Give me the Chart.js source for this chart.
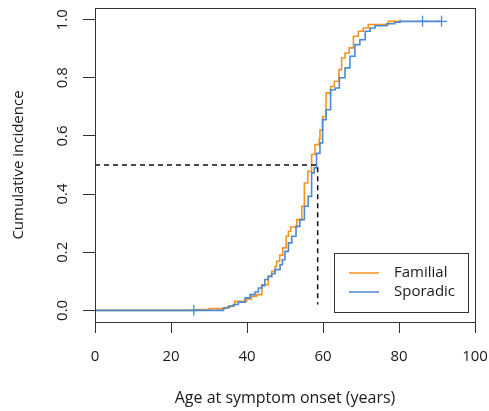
<!DOCTYPE html>
<html>
<head>
<meta charset="utf-8">
<style>
  html, body { margin: 0; padding: 0; background: #ffffff; }
  canvas { display: block; }
</style>
<script src="https://cdn.jsdelivr.net/npm/chart.js@4.4.1/dist/chart.umd.min.js"></script>
</head>
<body>
<canvas id="chart" width="489" height="411"></canvas>
<script>
// Cumulative incidence of symptom onset (step curves, event time -> level after the step)
const familialAge = [0, 26.8, 30.1, 34.2, 35.5, 36.8, 39.9, 41.2, 42.5, 43.9, 45.6, 46.5, 47.4, 47.8, 48.6, 49.4, 50.3, 50.9, 51.5, 53.1, 54.4, 55.1, 56.0, 57.0, 57.9, 59.0, 59.2, 59.9, 60.8, 62.0, 63.0, 64.2, 64.9, 65.8, 66.9, 68.0, 69.3, 70.6, 71.9, 77.2, 80.3];
const familialCum = [0, 0.003, 0.006, 0.010, 0.016, 0.031, 0.039, 0.048, 0.054, 0.088, 0.117, 0.134, 0.151, 0.169, 0.190, 0.215, 0.255, 0.272, 0.287, 0.312, 0.358, 0.438, 0.478, 0.536, 0.570, 0.590, 0.620, 0.667, 0.748, 0.770, 0.788, 0.828, 0.868, 0.885, 0.903, 0.943, 0.960, 0.971, 0.983, 0.994, 1.0];

const sporadicAge = [0, 33.8, 35.1, 36.4, 37.7, 39.5, 40.8, 42.1, 43.0, 43.9, 44.7, 45.6, 46.5, 47.4, 48.7, 49.3, 50.0, 50.9, 51.8, 52.9, 53.9, 55.1, 56.1, 57.0, 57.7, 58.3, 59.2, 59.9, 60.8, 62.0, 63.2, 64.3, 65.8, 67.1, 68.4, 69.7, 71.1, 72.4, 73.7, 76.8, 78.9, 80.3, 91.2];
const sporadicCum = [0, 0.008, 0.014, 0.020, 0.028, 0.043, 0.054, 0.063, 0.077, 0.085, 0.106, 0.117, 0.126, 0.140, 0.157, 0.174, 0.203, 0.232, 0.255, 0.289, 0.312, 0.358, 0.392, 0.473, 0.490, 0.540, 0.576, 0.656, 0.690, 0.759, 0.765, 0.800, 0.834, 0.874, 0.914, 0.931, 0.960, 0.971, 0.979, 0.986, 0.991, 0.994, 0.994];

// Censored observations (drawn as "+")
const sporadicCensorAge = [26.0, 86.2, 91.2];
const sporadicCensorCum = [0, 0.994, 0.994];

// Median onset guide
const medianAge = 58.6;
const medianLevel = 0.5;
const medianFloor = 0.02;

const xTickValues = [0, 20, 40, 60, 80, 100];
const yTickValues = [0, 0.2, 0.4, 0.6, 0.8, 1.0];
const seriesLabels = ['Familial', 'Sporadic'];
const seriesColors = ['#F7931E', '#4A8AD2'];

const FONT = "'Open Sans', 'Noto Sans', sans-serif";
const INK = '#1a1a1a';
const AXIS = '#333333';

const toPoints = (xs, ys) => xs.map((x, i) => ({ x: x, y: ys[i] }));

// Plot frame drawn around the chart area
const framePlugin = {
  id: 'frame',
  afterDatasetsDraw(chart) {
    const { ctx, chartArea: a } = chart;
    ctx.save();
    ctx.strokeStyle = AXIS;
    ctx.lineWidth = 1;
    ctx.strokeRect(Math.round(a.left) + 0.5, Math.round(a.top) + 0.5,
                   Math.round(a.right - a.left), Math.round(a.bottom - a.top));
    ctx.restore();
  }
};

// Boxed legend in the lower right of the plot
const boxLegendPlugin = {
  id: 'boxLegend',
  afterDraw(chart) {
    const { ctx, chartArea: a } = chart;
    const right = a.right - 7, bottom = a.bottom - 10;
    const w = 134, h = 59;
    const left = right - w, top = bottom - h;
    ctx.save();
    ctx.fillStyle = '#ffffff';
    ctx.fillRect(left, top, w, h);
    ctx.strokeStyle = AXIS;
    ctx.lineWidth = 1;
    ctx.strokeRect(Math.round(left) + 0.5, Math.round(top) + 0.5, w, h);
    ctx.font = "15px " + FONT;
    ctx.textBaseline = 'middle';
    ctx.textAlign = 'left';
    seriesLabels.forEach((label, i) => {
      const y = top + 20 + i * 19;
      ctx.strokeStyle = seriesColors[i];
      ctx.lineWidth = 1.5;
      ctx.beginPath();
      ctx.moveTo(left + 15, y);
      ctx.lineTo(left + 45, y);
      ctx.stroke();
      ctx.fillStyle = INK;
      ctx.fillText(label, left + 60, y);
    });
    ctx.restore();
  }
};

new Chart(document.getElementById('chart'), {
  type: 'line',
  data: {
    datasets: [
      {
        label: 'Median',
        data: [{ x: 0, y: medianLevel }, { x: medianAge, y: medianLevel }, { x: medianAge, y: medianFloor }],
        borderColor: '#111111',
        borderWidth: 1.5,
        borderDash: [5, 4],
        pointRadius: 0,
        fill: false,
        order: 0
      },
      {
        label: 'Sporadic censored',
        type: 'scatter',
        data: toPoints(sporadicCensorAge, sporadicCensorCum),
        borderColor: seriesColors[1],
        backgroundColor: seriesColors[1],
        pointStyle: 'cross',
        pointRadius: 5.5,
        pointBorderWidth: 1.3,
        showLine: false,
        order: 1
      },
      {
        label: seriesLabels[1],
        data: toPoints(sporadicAge, sporadicCum),
        borderColor: seriesColors[1],
        borderWidth: 1.6,
        stepped: 'before',
        pointRadius: 0,
        fill: false,
        order: 2
      },
      {
        label: seriesLabels[0],
        data: toPoints(familialAge, familialCum),
        borderColor: seriesColors[0],
        borderWidth: 1.6,
        stepped: 'before',
        pointRadius: 0,
        fill: false,
        order: 3
      }
    ]
  },
  options: {
    responsive: false,
    animation: false,
    devicePixelRatio: 1,
    layout: { padding: { left: 0, right: 14, top: 8, bottom: 0 } },
    plugins: {
      legend: { display: false },
      tooltip: { enabled: false }
    },
    scales: {
      x: {
        type: 'linear',
        min: 0,
        max: 100,
        afterBuildTicks: s => { s.ticks = xTickValues.map(v => ({ value: v })); },
        afterFit: s => { s.height = 89; s.paddingLeft = 0; s.paddingRight = 0; },
        ticks: {
          color: INK,
          padding: 15,
          maxRotation: 0,
          font: { family: FONT, size: 15 },
          callback: v => String(v)
        },
        grid: { drawOnChartArea: false, drawTicks: true, tickLength: 11, color: AXIS, lineWidth: 1 },
        border: { display: true, color: AXIS, width: 1 },
        title: {
          display: true,
          text: 'Age at symptom onset (years)',
          color: INK,
          font: { family: FONT, size: 16 },
          padding: { top: 0, bottom: 3 }
        }
      },
      y: {
        type: 'linear',
        min: -0.04,
        max: 1.04,
        afterBuildTicks: s => { s.ticks = yTickValues.map(v => ({ value: v })); },
        afterFit: s => { s.width = 95; s.paddingTop = 0; s.paddingBottom = 0; },
        ticks: {
          color: INK,
          padding: 10,
          minRotation: 90,
          maxRotation: 90,
          crossAlign: 'center',
          font: { family: FONT, size: 15 },
          callback: v => Number(v).toFixed(1)
        },
        grid: { drawOnChartArea: false, drawTicks: true, tickLength: 12, color: AXIS, lineWidth: 1 },
        border: { display: true, color: AXIS, width: 1 },
        title: {
          display: true,
          text: 'Cumulative incidence',
          color: INK,
          font: { family: FONT, size: 15 },
          padding: { top: 10, bottom: 0 }
        }
      }
    }
  },
  plugins: [framePlugin, boxLegendPlugin]
});
</script>
</body>
</html>
